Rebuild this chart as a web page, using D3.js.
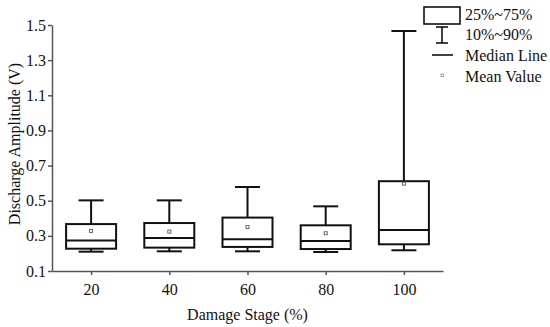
<!DOCTYPE html>
<html>
<head>
<meta charset="utf-8">
<script src="https://cdn.jsdelivr.net/npm/d3@7"></script>
<style>
  body { margin: 0; background: #fff; }
  svg { display: block; font-family: "Liberation Serif", "Times New Roman", serif; }
</style>
</head>
<body>
<svg id="chart" width="550" height="327"></svg>
<script>
// data
var stages = ["20", "40", "60", "80", "100"];
var p10    = [0.210, 0.212, 0.212, 0.208, 0.218];
var q1     = [0.227, 0.233, 0.237, 0.225, 0.252];
var median = [0.273, 0.288, 0.280, 0.271, 0.333];
var q3     = [0.367, 0.373, 0.404, 0.360, 0.611];
var p90    = [0.502, 0.502, 0.578, 0.468, 1.466];
var mean   = [0.328, 0.324, 0.350, 0.315, 0.597];
var yTicks = [0.1, 0.3, 0.5, 0.7, 0.9, 1.1, 1.3, 1.5];
var legendLabels = ["25%~75%", "10%~90%", "Median Line", "Mean Value"];

var margin = {top: 25, left: 52, right: 107, bottom: 56};
var width = 550 - margin.left - margin.right;
var height = 327 - margin.top - margin.bottom;

var svg = d3.select("#chart");
var g = svg.append("g")
    .attr("transform", "translate(" + margin.left + "," + margin.top + ")");

var x = d3.scalePoint().domain(stages).range([0, width]).padding(0.5);
var y = d3.scaleLinear().domain([0.1, 1.5]).range([height, 0]);

var boxW = 50, capW = 25;

// axes
var xAxis = g.append("g")
    .attr("transform", "translate(0," + height + ")")
    .call(d3.axisBottom(x).tickSize(4).tickSizeOuter(0));
var yAxis = g.append("g")
    .call(d3.axisLeft(y).tickValues(yTicks).tickFormat(d3.format(".1f")).tickSize(4).tickSizeOuter(0));

[xAxis, yAxis].forEach(function(a){
    a.attr("font-family", "Liberation Serif").attr("font-size", 16);
    a.selectAll("path, line").attr("stroke", "#555").attr("stroke-width", 1.5);
    a.selectAll("text").attr("fill", "#111");
});
xAxis.selectAll("text").attr("dy", "1.05em");
yAxis.selectAll("text").attr("x", -6);

// boxes
var data = stages.map(function(s, i){
    return {s: s, p10: p10[i], q1: q1[i], med: median[i], q3: q3[i], p90: p90[i], mean: mean[i]};
});

var box = g.selectAll(".box").data(data).enter().append("g")
    .attr("class", "box")
    .attr("transform", function(d){ return "translate(" + x(d.s) + ",0)"; })
    .attr("stroke", "#111").attr("stroke-width", 2).attr("fill", "none");

// whiskers
box.append("line").attr("x1", 0).attr("x2", 0)
    .attr("y1", function(d){ return y(d.p90); }).attr("y2", function(d){ return y(d.q3); });
box.append("line").attr("x1", 0).attr("x2", 0)
    .attr("y1", function(d){ return y(d.q1); }).attr("y2", function(d){ return y(d.p10); });
box.append("line").attr("x1", -capW / 2).attr("x2", capW / 2)
    .attr("y1", function(d){ return y(d.p90); }).attr("y2", function(d){ return y(d.p90); });
box.append("line").attr("x1", -capW / 2).attr("x2", capW / 2)
    .attr("y1", function(d){ return y(d.p10); }).attr("y2", function(d){ return y(d.p10); });

box.append("rect")
    .attr("x", -boxW / 2).attr("width", boxW)
    .attr("y", function(d){ return y(d.q3); })
    .attr("height", function(d){ return y(d.q1) - y(d.q3); });

box.append("line").attr("x1", -boxW / 2).attr("x2", boxW / 2)
    .attr("y1", function(d){ return y(d.med); }).attr("y2", function(d){ return y(d.med); });

// mean marker
box.append("rect")
    .attr("x", -1.5).attr("width", 3).attr("height", 3)
    .attr("y", function(d){ return y(d.mean) - 1.5; })
    .attr("stroke", "#666").attr("stroke-width", 1);

// axis titles
svg.append("text")
    .attr("x", margin.left + width / 2).attr("y", 320)
    .attr("text-anchor", "middle").style("font-size", "16px").attr("fill", "#111")
    .text("Damage Stage (%)");
svg.append("text")
    .attr("transform", "translate(20,144) rotate(-90)")
    .attr("text-anchor", "middle").style("font-size", "16px").attr("fill", "#111")
    .text("Discharge Amplitude (V)");

// legend
var lg = svg.append("g").attr("transform", "translate(442,0)");
lg.append("rect").attr("x", -18).attr("y", 7).attr("width", 36).attr("height", 17)
    .attr("fill", "none").attr("stroke", "#111").attr("stroke-width", 1.6);
lg.append("line").attr("x1", 0).attr("x2", 0).attr("y1", 27).attr("y2", 43)
    .attr("stroke", "#111").attr("stroke-width", 1.6);
lg.append("line").attr("x1", -6).attr("x2", 6).attr("y1", 27).attr("y2", 27)
    .attr("stroke", "#111").attr("stroke-width", 1.6);
lg.append("line").attr("x1", -6).attr("x2", 6).attr("y1", 43).attr("y2", 43)
    .attr("stroke", "#111").attr("stroke-width", 1.6);
lg.append("line").attr("x1", -10).attr("x2", 11).attr("y1", 55).attr("y2", 55)
    .attr("stroke", "#111").attr("stroke-width", 1.6);
lg.append("rect").attr("x", -1).attr("y", 74).attr("width", 2.5).attr("height", 2.5)
    .attr("fill", "none").attr("stroke", "#888").attr("stroke-width", 0.8);

lg.selectAll(".lt").data(legendLabels).enter().append("text")
    .attr("x", 23)
    .attr("y", function(d, i){ return [19.5, 39.5, 60.5, 81.5][i]; })
    .style("font-size", "16px").attr("fill", "#111")
    .text(function(d){ return d; });
</script>
</body>
</html>
